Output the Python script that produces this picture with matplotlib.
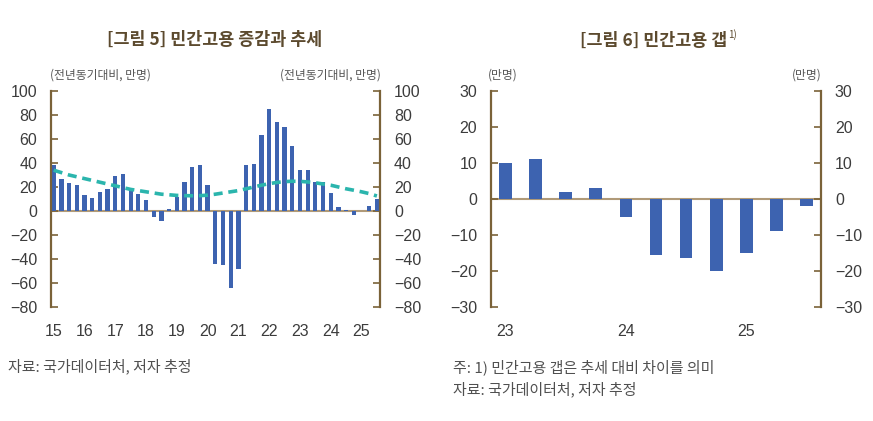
import matplotlib
matplotlib.use("Agg")
import matplotlib.pyplot as plt
import numpy as np

plt.rcParams['font.family'] = ['Noto Sans CJK KR', 'DejaVu Sans']

# [그림 5] quarterly, 15Q1 ~ 25Q3
emp_change = [38, 27, 23, 22, 13, 11, 16, 18,
              29, 31, 18, 14, 9, -5, -8, 2,
              12, 24, 37, 38, 22, -44, -45, -64,
              -48, 38, 39, 63, 85, 74, 70, 54,
              34, 34, 24, 24, 15, 3, 1, -3,
              0, 4, 10]
emp_trend = [34, 32, 30, 28.5, 27, 25.5, 24, 22.5,
             21, 19.5, 18, 17, 16, 15, 14, 13.5,
             13, 12.8, 12.7, 12.8, 13.2, 14, 15, 16,
             17, 18.5, 20, 21.5, 22.8, 23.8, 24.5, 24.8,
             24.7, 24.2, 23.5, 22.5, 21.5, 20, 18.5, 17.3,
             16, 14.5, 12.5]
years_left = ["15", "16", "17", "18", "19", "20", "21", "22", "23", "24", "25"]

# [그림 6] quarterly, 23Q1 ~ 25Q3
emp_gap = [10, 11, 2, 3, -5, -15.5, -16.5, -20, -15, -9, -2]
years_right = ["23", "24", "25"]

bar_color = "#3d63b0"
trend_color = "#2bb5ad"
spine_color = "#7a6238"
zero_color = "#b09a78"
title_color = "#5c4a2e"
text_color = "#3c3c3c"

fig = plt.figure(figsize=(8.73, 4.21), dpi=100)
W, H = 873, 421


def px_axes(x0, x1, ytop, ybot):
    return fig.add_axes([x0 / W, (H - ybot) / H, (x1 - x0) / W, (ybot - ytop) / H])


def style_axes(ax, ylim, yticks):
    ax.set_ylim(*ylim)
    ax.set_yticks(yticks)
    for s in ["top", "bottom"]:
        ax.spines[s].set_visible(False)
    for s in ["left", "right"]:
        ax.spines[s].set_color(spine_color)
        ax.spines[s].set_linewidth(1.6)
    ax.tick_params(axis="y", left=True, right=True, labelleft=True, labelright=True,
                   direction="in", length=5, width=1.2, color=spine_color,
                   labelsize=11.5, labelcolor=text_color, pad=10)
    ax.tick_params(axis="x", length=0, labelsize=11.5, labelcolor=text_color, pad=12)
    ax.axhline(0, color=zero_color, linewidth=1.5, zorder=1)
    for lab in ax.get_yticklabels() + ax.get_xticklabels():
        lab.set_fontfamily(["Liberation Sans", "DejaVu Sans"])
    ax.set_facecolor("none")


# left chart
ax1 = px_axes(51, 380, 91, 307)
x1 = np.arange(len(emp_change))
ax1.bar(x1, emp_change, width=0.55, color=bar_color, zorder=2)
ax1.plot(x1, emp_trend, color=trend_color, linewidth=2.6, linestyle=(0, (2.5, 1.6)), zorder=3)
ax1.set_xlim(-0.35, len(emp_change) - 0.6)
ax1.set_xticks(np.arange(0, len(emp_change), 4))
ax1.set_xticklabels(years_left)
style_axes(ax1, (-80, 100), range(-80, 101, 20))

# right chart
ax2 = px_axes(491, 821, 91, 307)
x2 = np.arange(len(emp_gap))
ax2.bar(x2, emp_gap, width=0.42, color=bar_color, zorder=2)
ax2.set_xlim(-0.47, len(emp_gap) - 0.53)
ax2.set_xticks(np.arange(0, len(emp_gap), 4))
ax2.set_xticklabels(years_right)
style_axes(ax2, (-30, 30), range(-30, 31, 10))

# titles
fig.text(215 / W, 1 - 40 / H, "[그림 5] 민간고용 증감과 추세", ha="center", va="center",
         fontsize=12.5, fontweight="bold", color=title_color)
fig.text(727 / W, 1 - 41 / H, "[그림 6] 민간고용 갭", ha="right", va="center",
         fontsize=12.5, fontweight="bold", color=title_color)
fig.text(728 / W, 1 - 35 / H, "1)", ha="left", va="center", fontsize=7, color=title_color)

# unit labels
fig.text(50 / W, 1 - 75 / H, "(전년동기대비, 만명)", ha="left", va="center", fontsize=8.5, color="#555555")
fig.text(381 / W, 1 - 75 / H, "(전년동기대비, 만명)", ha="right", va="center", fontsize=8.5, color="#555555")
fig.text(488 / W, 1 - 75 / H, "(만명)", ha="left", va="center", fontsize=8.5, color="#555555")
fig.text(822 / W, 1 - 75 / H, "(만명)", ha="right", va="center", fontsize=8.5, color="#555555")

# notes
note_kw = dict(ha="left", va="center", fontsize=10.8, color="#505050", fontweight="light")
fig.text(8 / W, 1 - 366 / H, "자료: 국가데이터처, 저자 추정", **note_kw)
fig.text(453 / W, 1 - 367 / H, "주: 1) 민간고용 갭은 추세 대비 차이를 의미", **note_kw)
fig.text(453 / W, 1 - 389 / H, "자료: 국가데이터처, 저자 추정", **note_kw)

fig.savefig("out.png", dpi=100)
